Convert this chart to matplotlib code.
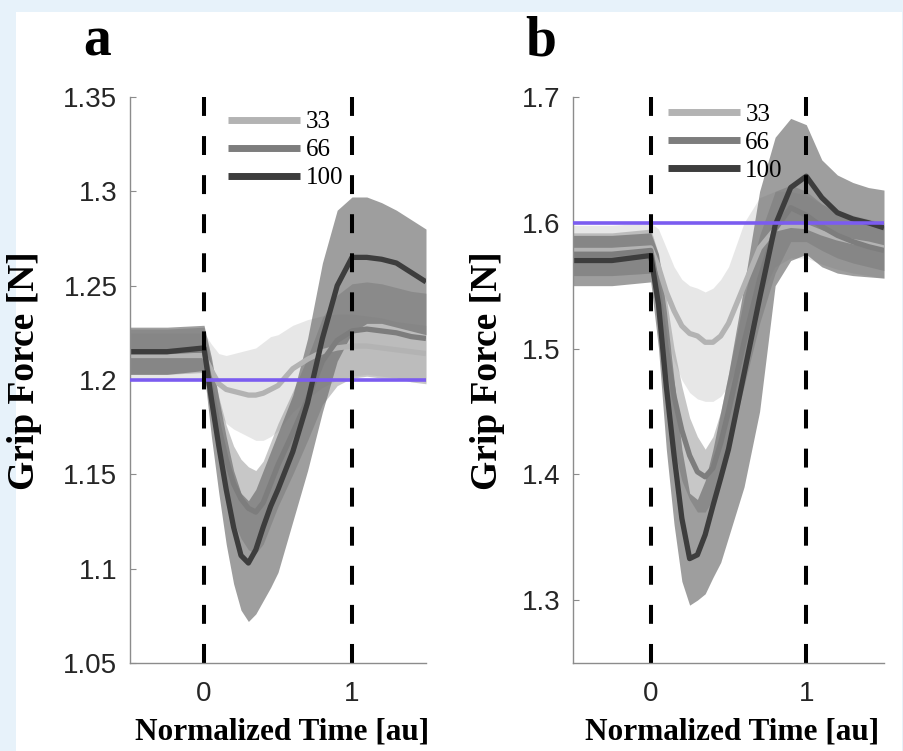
import matplotlib.pyplot as plt
from matplotlib.lines import Line2D
from matplotlib.patches import Rectangle
from matplotlib.ticker import FormatStrFormatter
import numpy as np

# time axis (normalized)
t = [-0.5, -0.25, 0.0, 0.05, 0.1, 0.15, 0.2, 0.25, 0.3, 0.35, 0.4, 0.45,
     0.5, 0.6, 0.7, 0.8, 0.9, 1.0, 1.1, 1.2, 1.3, 1.4, 1.5]

levels = ['33', '66', '100']

# panel a
a33_mean = [1.213, 1.213, 1.213, 1.205, 1.198, 1.195, 1.194, 1.193, 1.192, 1.192, 1.193, 1.195,
            1.197, 1.206, 1.211, 1.215, 1.217, 1.218, 1.218, 1.217, 1.216, 1.215, 1.214]
a33_lo = [1.201, 1.201, 1.201, 1.191, 1.182, 1.177, 1.174, 1.172, 1.170, 1.168, 1.168, 1.170,
          1.173, 1.183, 1.190, 1.196, 1.200, 1.202, 1.203, 1.202, 1.201, 1.200, 1.199]
a33_hi = [1.225, 1.225, 1.225, 1.219, 1.214, 1.213, 1.214, 1.215, 1.216, 1.217, 1.220, 1.223,
          1.224, 1.229, 1.232, 1.234, 1.235, 1.235, 1.234, 1.233, 1.231, 1.230, 1.229]

a66_mean = [1.215, 1.215, 1.216, 1.195, 1.175, 1.158, 1.145, 1.137, 1.132, 1.130, 1.135, 1.145,
            1.155, 1.172, 1.190, 1.210, 1.221, 1.226, 1.227, 1.226, 1.225, 1.223, 1.222]
a66_lo = [1.203, 1.203, 1.204, 1.181, 1.159, 1.140, 1.125, 1.116, 1.110, 1.108, 1.113, 1.123,
          1.133, 1.150, 1.168, 1.187, 1.197, 1.201, 1.202, 1.201, 1.201, 1.199, 1.198]
a66_hi = [1.227, 1.227, 1.228, 1.209, 1.191, 1.176, 1.165, 1.158, 1.154, 1.152, 1.157, 1.167,
          1.177, 1.194, 1.212, 1.233, 1.245, 1.251, 1.252, 1.251, 1.249, 1.247, 1.246]

a100_mean = [1.215, 1.215, 1.217, 1.190, 1.165, 1.142, 1.122, 1.107, 1.103, 1.110, 1.122, 1.133,
             1.142, 1.162, 1.188, 1.222, 1.250, 1.265, 1.265, 1.264, 1.262, 1.257, 1.252]
a100_lo = [1.203, 1.203, 1.205, 1.170, 1.140, 1.113, 1.092, 1.078, 1.072, 1.076, 1.083, 1.090,
           1.098, 1.125, 1.152, 1.183, 1.210, 1.225, 1.230, 1.230, 1.228, 1.226, 1.224]
a100_hi = [1.228, 1.228, 1.229, 1.212, 1.190, 1.170, 1.152, 1.140, 1.136, 1.142, 1.152, 1.162,
           1.172, 1.192, 1.222, 1.262, 1.290, 1.297, 1.297, 1.294, 1.290, 1.285, 1.280]

# panel b
b33_mean = [1.578, 1.578, 1.580, 1.565, 1.545, 1.530, 1.518, 1.512, 1.510, 1.505, 1.505, 1.510,
            1.520, 1.550, 1.580, 1.595, 1.598, 1.597, 1.592, 1.588, 1.585, 1.583, 1.580]
b33_lo = [1.558, 1.558, 1.560, 1.535, 1.510, 1.490, 1.475, 1.465, 1.460, 1.458, 1.458, 1.462,
          1.470, 1.500, 1.540, 1.565, 1.572, 1.572, 1.567, 1.563, 1.560, 1.558, 1.556]
b33_hi = [1.598, 1.598, 1.600, 1.595, 1.580, 1.565, 1.555, 1.550, 1.548, 1.545, 1.548, 1.555,
          1.565, 1.600, 1.620, 1.625, 1.625, 1.622, 1.615, 1.610, 1.606, 1.603, 1.600]

b66_mean = [1.575, 1.575, 1.578, 1.545, 1.500, 1.462, 1.435, 1.415, 1.402, 1.398, 1.405, 1.425,
            1.450, 1.505, 1.555, 1.595, 1.612, 1.606, 1.597, 1.590, 1.585, 1.581, 1.578]
b66_lo = [1.558, 1.558, 1.560, 1.520, 1.465, 1.420, 1.395, 1.380, 1.370, 1.370, 1.380, 1.400,
          1.420, 1.470, 1.520, 1.560, 1.585, 1.585, 1.578, 1.572, 1.568, 1.565, 1.562]
b66_hi = [1.592, 1.592, 1.595, 1.575, 1.540, 1.500, 1.470, 1.445, 1.430, 1.420, 1.430, 1.450,
          1.480, 1.540, 1.590, 1.625, 1.630, 1.625, 1.615, 1.608, 1.603, 1.600, 1.598]

b100_mean = [1.570, 1.570, 1.574, 1.535, 1.470, 1.415, 1.365, 1.333, 1.336, 1.352, 1.375, 1.397,
             1.420, 1.480, 1.540, 1.598, 1.628, 1.637, 1.620, 1.608, 1.603, 1.600, 1.596]
b100_lo = [1.550, 1.550, 1.553, 1.500, 1.420, 1.360, 1.315, 1.296, 1.300, 1.305, 1.318, 1.330,
           1.350, 1.390, 1.450, 1.550, 1.570, 1.575, 1.565, 1.560, 1.558, 1.557, 1.556]
b100_hi = [1.590, 1.590, 1.592, 1.575, 1.530, 1.475, 1.420, 1.385, 1.380, 1.395, 1.420, 1.450,
           1.480, 1.550, 1.625, 1.668, 1.683, 1.678, 1.650, 1.638, 1.632, 1.628, 1.626]

line_cols = ['#b3b3b3', '#7d7d7d', '#3d3d3d']
band_cols = ['#d8d8d8', '#9a9a9a', '#6a6a6a']
band_alpha = [0.6, 0.55, 0.65]
purple = '#7b5cf0'

plt.rcParams['font.family'] = ['Liberation Sans', 'DejaVu Sans']

fig = plt.figure(figsize=(9.04, 7.51), dpi=100)
fig.patch.set_facecolor('#e7f2fa')
fig.patches.append(Rectangle((16/904, 0), 886/904, 739/751, transform=fig.transFigure,
                             facecolor='white', edgecolor='none', zorder=-5))

ax_a = fig.add_axes([130/904, 88/751, 296/904, 566/751])
ax_b = fig.add_axes([573/904, 88/751, 311/904, 566/751])

panels = [
    (ax_a, [a33_mean, a66_mean, a100_mean], [a33_lo, a66_lo, a100_lo], [a33_hi, a66_hi, a100_hi],
     1.2, (1.05, 1.35), np.arange(1.05, 1.351, 0.05), 'a', 83, 25, 0.331, 0.906),
    (ax_b, [b33_mean, b66_mean, b100_mean], [b33_lo, b66_lo, b100_lo], [b33_hi, b66_hi, b100_hi],
     1.6, (1.25, 1.7), np.arange(1.3, 1.71, 0.1), 'b', 525, 488, 0.305, 0.919),
]

for ax, means, los, his, ref, ylim, yt, letter, lx, ylx, legx, legy in panels:
    ax.set_facecolor('none')
    for i in range(3):
        ax.fill_between(t, los[i], his[i], color=band_cols[i], alpha=band_alpha[i], lw=0, zorder=1)
    for i in range(3):
        ax.plot(t, means[i], color=line_cols[i], lw=3.8, zorder=2, solid_capstyle='butt')
    ax.axhline(ref, color=purple, lw=2.6, zorder=3)
    for x in [0, 1]:
        ax.plot([x, x], [ylim[1], ylim[0]], color='black', lw=2.9, ls=(0, (4.7, 5.0)), zorder=4)

    ax.set_xlim(-0.5, 1.5)
    ax.set_ylim(*ylim)
    ax.set_xticks([0, 1])
    ax.set_yticks(yt)
    ax.yaxis.set_major_formatter(FormatStrFormatter('%g'))
    for s in ['top', 'right']:
        ax.spines[s].set_visible(False)
    for s in ['left', 'bottom']:
        ax.spines[s].set_color('#8c8c8c')
        ax.spines[s].set_linewidth(1.0)
    ax.tick_params(axis='both', direction='in', length=4, color='#8c8c8c',
                   labelsize=20, labelcolor='#262626')
    ax.tick_params(axis='x', pad=13)
    ax.tick_params(axis='y', pad=9)

    handles = [Line2D([], [], color=c, lw=5, solid_capstyle='butt') for c in line_cols]
    ax.legend(handles, levels, loc='center left', bbox_to_anchor=(legx, legy),
              frameon=False, borderpad=0, borderaxespad=0, handlelength=2.9,
              handletextpad=0.2, labelspacing=0.22,
              prop={'family': 'Liberation Serif', 'size': 18})

    fig.text(lx / 904, 1 - 55 / 751, letter, fontsize=40, fontweight='bold',
             family='Liberation Serif', ha='left', va='baseline')
    fig.text(ylx / 904, 1 - 371 / 751, 'Grip Force [N]', fontsize=27, fontweight='bold',
             family='Liberation Serif', rotation=90, ha='center', va='center')
    pos = ax.get_position()
    fig.text(pos.x0 + pos.width / 2 + 4 / 904, 11 / 751, 'Normalized Time [au]', fontsize=22.5,
             fontweight='bold', family='Liberation Serif', ha='center', va='baseline')

fig.savefig('out.png', dpi=100, facecolor=fig.get_facecolor())
